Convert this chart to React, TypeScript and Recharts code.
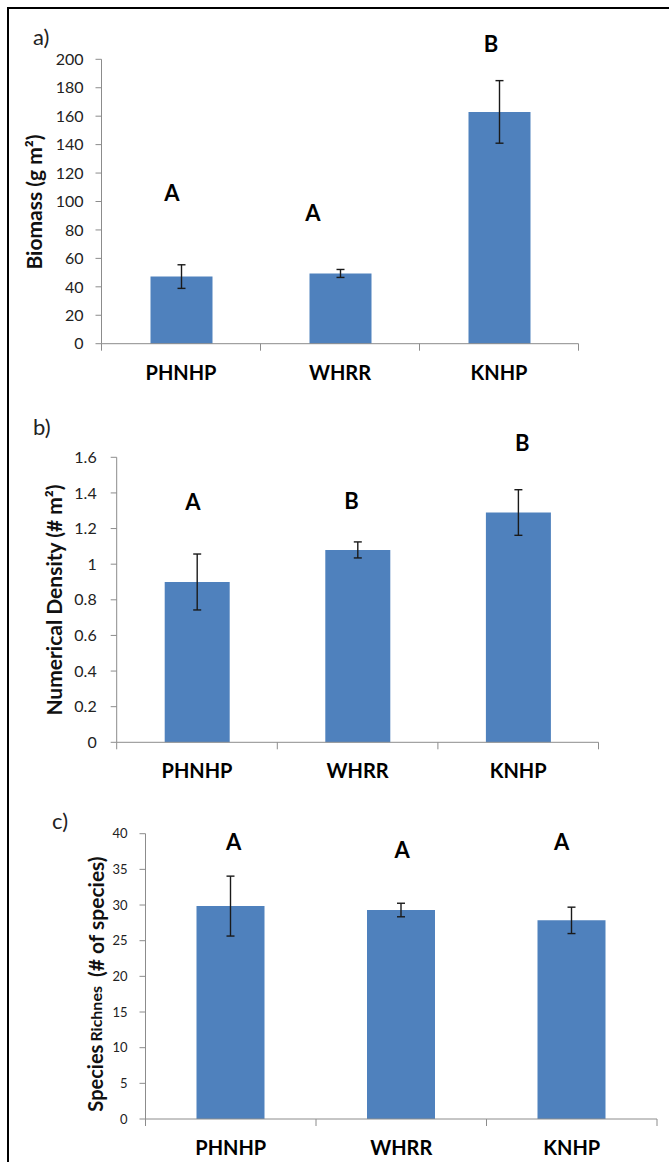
import React from 'react';
import { BarChart, Bar, XAxis, YAxis, ErrorBar, ReferenceDot } from 'recharts';

const sites = ['PHNHP', 'WHRR', 'KNHP'];

const biomass = [47.2, 49.4, 163];
const biomassErr = [8.3, 2.8, 22];
const biomassLetters = ['A', 'A', 'B'];
const biomassLetterY = [106, 92, 211];
const biomassTicks = [0, 20, 40, 60, 80, 100, 120, 140, 160, 180, 200];

const density = [0.9, 1.08, 1.29];
const densityErr = [0.157, 0.045, 0.128];
const densityLetters = ['A', 'B', 'B'];
const densityLetterY = [1.35, 1.357, 1.682];
const densityTicks = [0, 0.2, 0.4, 0.6, 0.8, 1, 1.2, 1.4, 1.6];

const richness = [29.85, 29.3, 27.85];
const richnessErr = [4.2, 0.95, 1.85];
const richnessLetters = ['A', 'A', 'A'];
const richnessLetterY = [38.9, 37.7, 38.9];
const richnessTicks = [0, 5, 10, 15, 20, 25, 30, 35, 40];

const FONT = 'Lato, "Open Sans", sans-serif';
const AXIS_COLOR = '#8c8c8c';
const BAR_COLOR = '#4f81bd';

const CategoryTick = (props: any) => {
  const { x, y, payload, index } = props;
  const half = payload?.offset ?? 0;
  const last = index === sites.length - 1;
  return (
    <g>
      <line x1={x - half} y1={y} x2={x - half} y2={y + 7} stroke={AXIS_COLOR} />
      {last && <line x1={x + half} y1={y} x2={x + half} y2={y + 7} stroke={AXIS_COLOR} />}
      <text x={x} y={y + 36} textAnchor="middle" fontFamily={FONT} fontWeight={700} fontSize={20} fill="#000">
        {payload.value}
      </text>
    </g>
  );
};

interface PanelProps {
  values: number[];
  errs: number[];
  letters: string[];
  letterY: number[];
  letterDx: number[];
  ticks: number[];
  top: number;
  height: number;
  margin: { top: number; right: number; left: number; bottom: number };
  xAxisHeight: number;
  tickFontSize: number;
  tickMargin: number;
  barSize: number;
  title: React.ReactNode;
  titleX: number;
  titleY: number;
}

function Panel(p: PanelProps) {
  const data = sites.map((site, i) => ({ site, value: p.values[i], err: p.errs[i] }));
  const max = p.ticks[p.ticks.length - 1];

  return (
    <div style={{ position: 'absolute', left: 0, top: p.top }}>
      <BarChart width={669} height={p.height} data={data} margin={p.margin}>
        <XAxis
          dataKey="site"
          height={p.xAxisHeight}
          interval={0}
          tickLine={false}
          tickSize={0}
          tickMargin={0}
          axisLine={{ stroke: AXIS_COLOR }}
          tick={<CategoryTick />}
        />
        <YAxis
          width={80}
          domain={[0, max]}
          ticks={p.ticks}
          interval={0}
          tickSize={6}
          tickMargin={p.tickMargin}
          axisLine={{ stroke: AXIS_COLOR }}
          tickLine={{ stroke: AXIS_COLOR }}
          tick={{ fill: '#222', fontSize: p.tickFontSize, fontFamily: FONT }}
          label={() => (
            <text
              x={p.titleX}
              y={p.titleY}
              transform={`rotate(-90 ${p.titleX} ${p.titleY})`}
              textAnchor="middle"
              dominantBaseline="central"
              fontFamily={FONT}
              fontWeight={700}
              fill="#111"
            >
              {p.title}
            </text>
          )}
        />
        <Bar dataKey="value" fill={BAR_COLOR} barSize={p.barSize} isAnimationActive={false}>
          <ErrorBar dataKey="err" width={4} stroke="#1a1a1a" strokeWidth={1.4} direction="y" isAnimationActive={false} />
        </Bar>
        {sites.map((site, i) => (
          <ReferenceDot
            key={site}
            x={site}
            y={p.letterY[i]}
            r={0}
            ifOverflow="visible"
            shape={(s: any) => (
              <text
                x={s.cx + p.letterDx[i]}
                y={s.cy + 8}
                textAnchor="middle"
                fontFamily={FONT}
                fontWeight={700}
                fontSize={22}
                fill="#000"
              >
                {p.letters[i]}
              </text>
            )}
          />
        ))}
      </BarChart>
    </div>
  );
}

export default function App() {
  return (
    <div
      style={{
        position: 'absolute',
        left: 0,
        top: 0,
        width: 669,
        height: 1162,
        background: '#fff',
        overflow: 'hidden',
        fontFamily: FONT,
      }}
    >
      <div
        style={{
          position: 'absolute',
          left: 7,
          top: 7,
          width: 700,
          height: 1200,
          borderTop: '2px solid #000',
          borderLeft: '2px solid #000',
        }}
      />
      <Panel
        values={biomass}
        errs={biomassErr}
        letters={biomassLetters}
        letterY={biomassLetterY}
        letterDx={[-9, -27, -8]}
        ticks={biomassTicks}
        top={0}
        height={390}
        margin={{ top: 59.3, right: 90.5, left: 21.5, bottom: 6.3 }}
        xAxisHeight={40}
        tickFontSize={16}
        tickMargin={12}
        barSize={62}
        title={<tspan fontSize={21}>Biomass (g m²)</tspan>}
        titleX={33}
        titleY={202}
      />
      <Panel
        values={density}
        errs={densityErr}
        letters={densityLetters}
        letterY={densityLetterY}
        letterDx={[-4, -6, 4]}
        ticks={densityTicks}
        top={390}
        height={400}
        margin={{ top: 67.3, right: 70.5, left: 36.7, bottom: 15.7 }}
        xAxisHeight={32}
        tickFontSize={16}
        tickMargin={14}
        barSize={65}
        title={<tspan fontSize={21}>Numerical Density (# m²)</tspan>}
        titleX={53}
        titleY={210}
      />
      <Panel
        values={richness}
        errs={richnessErr}
        letters={richnessLetters}
        letterY={richnessLetterY}
        letterDx={[3, 1, -10]}
        ticks={richnessTicks}
        top={780}
        height={382}
        margin={{ top: 53.7, right: 12, left: 65.5, bottom: 5 }}
        xAxisHeight={38}
        tickFontSize={13}
        tickMargin={12}
        barSize={68}
        title={
          <>
            <tspan fontSize={20}>Species</tspan>
            <tspan fontSize={16} dx={3}>Richnes</tspan>
            <tspan fontSize={21} dx={9}>(# of species)</tspan>
          </>
        }
        titleX={95}
        titleY={204}
      />
      <svg width={669} height={1162} style={{ position: 'absolute', left: 0, top: 0, pointerEvents: 'none' }}>
        <text x={33} y={45} fontFamily={FONT} fontSize={22} fill="#222">a)</text>
        <text x={33} y={435} fontFamily={FONT} fontSize={22} fill="#222">b)</text>
        <text x={52} y={829} fontFamily={FONT} fontSize={22} fill="#222">c)</text>
      </svg>
    </div>
  );
}
